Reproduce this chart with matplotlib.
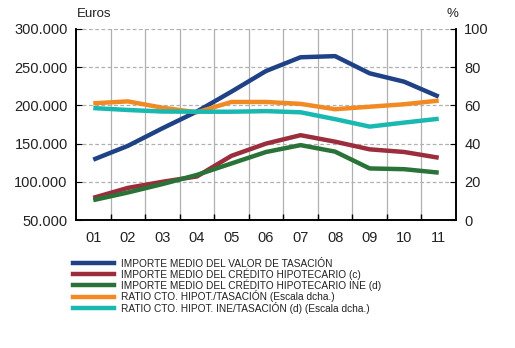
import matplotlib
matplotlib.use("Agg")
import matplotlib.pyplot as plt
from matplotlib.lines import Line2D
from matplotlib import font_manager
import numpy as np

years = ["01", "02", "03", "04", "05", "06", "07", "08", "09", "10", "11"]
tasacion = [129000, 147000, 170000, 192000, 218000, 245000, 263000, 264500, 242000, 231000, 211500]
credito = [79000, 92000, 100000, 107000, 134000, 150000, 161000, 152500, 142500, 139000, 131500]
credito_ine = [76000, 86000, 97000, 109000, 124000, 139000, 148000, 139500, 117500, 116500, 112000]
ratio = [61.1, 62.1, 58.8, 56.4, 61.8, 61.8, 60.8, 58.0, 59.3, 60.6, 62.5]
ratio_ine = [58.6, 57.6, 56.8, 56.7, 56.7, 57.0, 56.4, 52.8, 48.9, 51.0, 53.0]

labels = ["IMPORTE MEDIO DEL VALOR DE TASACIÓN",
          "IMPORTE MEDIO DEL CRÉDITO HIPOTECARIO (c)",
          "IMPORTE MEDIO DEL CRÉDITO HIPOTECARIO INE (d)",
          "RATIO CTO. HIPOT./TASACIÓN (Escala dcha.)",
          "RATIO CTO. HIPOT. INE/TASACIÓN (d) (Escala dcha.)"]
colors = ["#1f4185", "#9b2d3c", "#2a7338", "#f28a24", "#19b8b0"]

plt.rcParams['font.family'] = ['Liberation Sans', 'DejaVu Sans']

names = {f.name for f in font_manager.fontManager.ttflist}
if 'Liberation Sans Narrow' in names:
    leg_prop = {'family': 'Liberation Sans Narrow', 'size': 8.3}
else:
    leg_prop = {'family': 'Liberation Sans', 'size': 7.3}

fig = plt.figure(figsize=(5.15, 3.48), dpi=100)
W, H = 515, 348
ax = fig.add_axes([76 / W, 1 - 220 / H, (456 - 76) / W, (220 - 29) / H])
ax2 = ax.twinx()

x = np.arange(len(years))
for vals, c in zip([tasacion, credito, credito_ine], colors[:3]):
    ax.plot(x, vals, color=c, lw=3.2, solid_capstyle='butt', zorder=3)
for vals, c in zip([ratio, ratio_ine], colors[3:]):
    ax2.plot(x, vals, color=c, lw=3.2, solid_capstyle='butt', zorder=3)

ax.set_xlim(-0.5, len(years) - 0.5)
ax.set_ylim(50000, 300000)
yt = np.arange(50000, 300001, 50000)
ax.set_yticks(yt)
ax.set_yticklabels([f"{int(v):,}".replace(",", ".") for v in yt])
ax2.set_ylim(0, 100)
ax2.set_yticks(np.arange(0, 101, 20))

ax.set_xticks(x)
ax.set_xticklabels(years)
ax.set_xticks(np.arange(0.5, len(years) - 0.5, 1), minor=True)
ax.tick_params(axis='x', which='major', length=0, labelsize=10.5, pad=8, colors='#222222')
ax.tick_params(axis='x', which='minor', direction='in', length=4, width=1)
ax.tick_params(axis='y', direction='in', length=4, labelsize=10.5, pad=6, labelcolor='#222222')
ax2.tick_params(axis='y', direction='in', length=4, labelsize=10.5, pad=6, labelcolor='#222222')

ax.grid(True, axis='y', color='#b0b0b0', ls=(0, (3, 2)), lw=0.9)
ax.grid(True, axis='x', which='minor', color='#b0b0b0', ls='-', lw=0.9)
ax.set_axisbelow(True)

for a in (ax, ax2):
    a.spines['top'].set_visible(False)
    for s in ('left', 'right', 'bottom'):
        a.spines[s].set_linewidth(1.2)

fig.text(77 / W, 1 - 14 / H, "Euros", fontsize=9.5, va='center', ha='left', color='#222222')
fig.text(452 / W, 1 - 14 / H, "%", fontsize=9.5, va='center', ha='center', color='#222222')

handles = [Line2D([0], [0], color=c, lw=3.2) for c in colors]
fig.legend(handles, labels, loc='upper left', bbox_to_anchor=(73 / W, 1 - 259 / H),
           frameon=False, handlelength=4.0, handletextpad=0.75, labelspacing=-0.05,
           borderpad=0, borderaxespad=0, prop=leg_prop, labelcolor='#222222')

fig.savefig("out.png", dpi=100)
